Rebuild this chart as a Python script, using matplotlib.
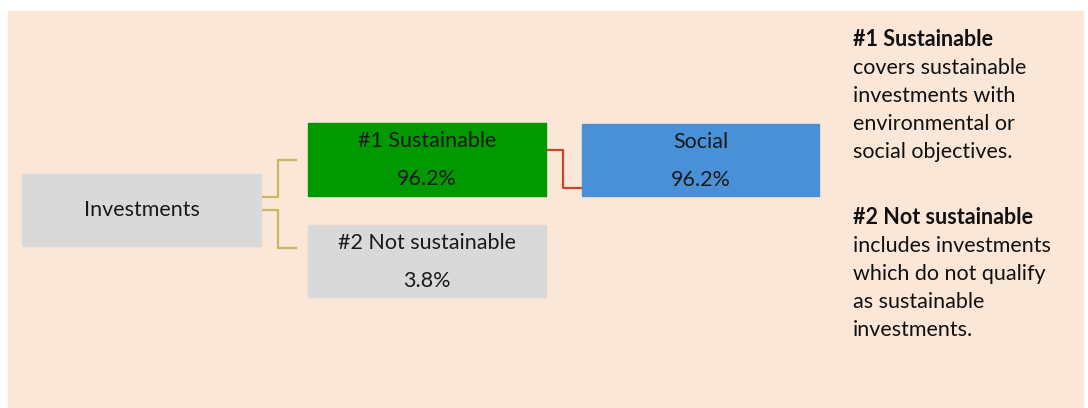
import matplotlib
matplotlib.use("Agg")
import matplotlib.pyplot as plt
from matplotlib.patches import Rectangle

# data
labels = ["Investments", "#1 Sustainable", "#2 Not sustainable", "Social"]
shares = [None, 96.2, 3.8, 96.2]
colors = ["#d9d9d9", "#009a00", "#d9d9d9", "#4a90d6"]
note_titles = ["#1 Sustainable", "#2 Not sustainable"]
note_texts = ["covers sustainable\ninvestments with\nenvironmental or\nsocial objectives.",
              "includes investments\nwhich do not qualify\nas sustainable\ninvestments."]

# box positions in pixels (x0, y0, x1, y1)
boxes = [(22, 174, 261, 246), (308, 123, 546, 196), (308, 225, 546, 297), (582, 124, 819, 196)]

plt.rcParams['font.family'] = ['Lato', 'DejaVu Sans']

fig = plt.figure(figsize=(10.88, 4.08), dpi=100)
ax = fig.add_axes([0, 0, 1, 1])
ax.set_xlim(0, 1088)
ax.set_ylim(408, 0)
ax.axis('off')

ax.add_patch(Rectangle((8, 11), 1075, 400, color="#fbe7d7", zorder=0))

for i, (lab, val, col) in enumerate(zip(labels, shares, colors)):
    x0, y0, x1, y1 = boxes[i]
    ax.add_patch(Rectangle((x0, y0), x1 - x0, y1 - y0, color=col, zorder=2))
    cx = (x0 + x1) / 2
    if val is None:
        ax.text(cx, 210, lab, ha='center', va='center', fontsize=15.5, color='#1a1a1a', zorder=3)
    else:
        ax.text(cx, y0 + 18, lab, ha='center', va='center', fontsize=15.5, color='#1a1a1a', zorder=3)
        ax.text(cx, y0 + 56, f"{val}%", ha='center', va='center', fontsize=15.5, color='#1a1a1a', zorder=3)

# connectors
yel = "#c8b865"
ax.plot([261, 278, 278, 296], [197, 197, 160, 160], color=yel, lw=1.6, zorder=1)
ax.plot([261, 278, 278, 296], [210, 210, 248, 248], color=yel, lw=1.6, zorder=1)
ax.plot([546, 563, 563, 582], [150, 150, 188, 188], color="#c8472a", lw=1.6, zorder=1)

# notes on the right
y = 40
for t, body in zip(note_titles, note_texts):
    ax.text(853, y, t, ha='left', va='center', fontsize=15.5, fontweight='bold', color='#111111')
    for k, line in enumerate(body.split("\n")):
        ax.text(853, y + 28 * (k + 1), line, ha='left', va='center', fontsize=15.5, color='#111111')
    y = 218

fig.savefig("out.png", dpi=100)
